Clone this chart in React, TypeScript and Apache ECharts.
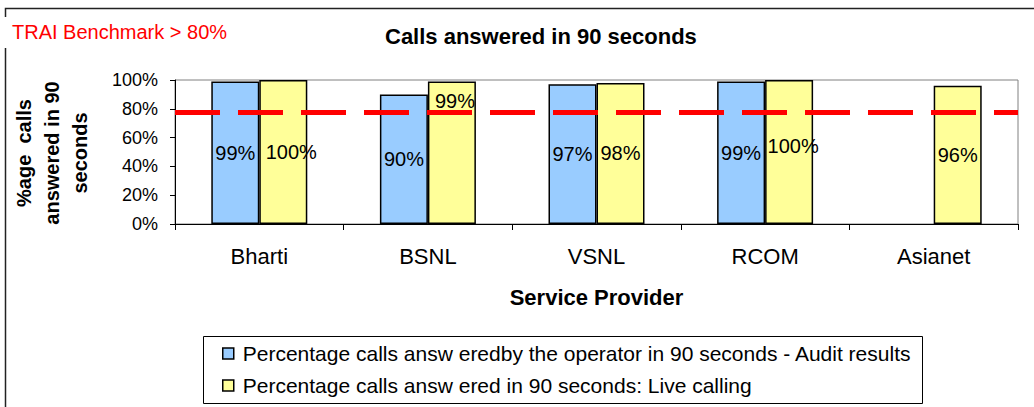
import React, { useEffect, useRef } from "react";
import * as echarts from "echarts";

const providers = ["Bharti", "BSNL", "VSNL", "RCOM", "Asianet"];
const auditResults: (number | null)[] = [99, 90, 97, 99, null];
const liveCalling: number[] = [100, 99, 98, 100, 96];
const benchmarkLine = 77.5; // where the dashed benchmark line is drawn
const yTicks = [0, 20, 40, 60, 80, 100];

const seriesNames = [
  "Percentage calls answ eredby the operator in 90 seconds - Audit results",
  "Percentage calls answ ered in 90 seconds: Live calling",
];
const colors = ["#99CCFF", "#FFFF99"];

const FONT = "'Liberation Sans', Arial, sans-serif";

// label placement tweaks for the live-calling series (style only)
const liveLabelTweaks: Record<number, any> = {
  0: { offset: [8, 0] },
  1: { position: "insideTop", distance: 10, offset: [3, 0] },
  3: { offset: [4, -6] },
};

export default function App() {
  const ref = useRef<HTMLDivElement>(null);

  useEffect(() => {
    if (!ref.current) return;
    const chart = echarts.init(ref.current, null, { renderer: "svg" });

    const labelBase = {
      show: true,
      position: "inside",
      formatter: "{c}%",
      color: "#000",
      fontSize: 20,
      fontFamily: FONT,
    };

    const option: any = {
      animation: false,
      backgroundColor: "#fff",
      title: {
        text: "Calls answered in 90 seconds",
        left: 385,
        top: 25,
        padding: 0,
        textStyle: { fontSize: 22, fontWeight: "bold", color: "#000", fontFamily: FONT },
      },
      legend: {
        orient: "vertical",
        left: 222,
        top: 343,
        padding: 0,
        itemWidth: 11,
        itemHeight: 11,
        itemGap: 11,
        icon: "rect",
        textStyle: { fontSize: 21, lineHeight: 21, color: "#000", fontFamily: FONT, padding: [0, 0, 0, 4] },
        data: seriesNames.map((n, i) => ({
          name: n,
          itemStyle: { color: colors[i], borderColor: "#000", borderWidth: 1.5 },
        })),
      },
      grid: {
        left: 175,
        top: 80,
        right: 16,
        bottom: 183,
        show: true,
        borderColor: "#808080",
        borderWidth: 1,
        backgroundColor: "transparent",
      },
      xAxis: {
        type: "category",
        data: providers,
        name: "Service Provider",
        nameLocation: "middle",
        nameGap: 62,
        nameTextStyle: { fontSize: 22, fontWeight: "bold", color: "#000", fontFamily: FONT },
        axisLine: { show: true, lineStyle: { color: "#000", width: 1 } },
        axisTick: { show: true, length: 6, lineStyle: { color: "#000" } },
        axisLabel: { fontSize: 22, color: "#000", margin: 21, fontFamily: FONT },
      },
      yAxis: {
        type: "value",
        min: yTicks[0],
        max: yTicks[yTicks.length - 1],
        interval: 20,
        axisLine: { show: true, lineStyle: { color: "#000", width: 1 } },
        axisTick: { show: true, length: 5, lineStyle: { color: "#000" } },
        splitLine: { show: false },
        axisLabel: { fontSize: 18, color: "#000", margin: 17, fontFamily: FONT, formatter: "{value}%" },
      },
      series: [
        {
          name: seriesNames[0],
          type: "bar",
          data: auditResults,
          barWidth: 48,
          barGap: "0%",
          itemStyle: { color: colors[0], borderColor: "#000", borderWidth: 1.5 },
          label: labelBase,
        },
        {
          name: seriesNames[1],
          type: "bar",
          data: liveCalling.map((v, i) =>
            liveLabelTweaks[i] ? { value: v, label: liveLabelTweaks[i] } : v
          ),
          barWidth: 48,
          barGap: "0%",
          itemStyle: { color: colors[1], borderColor: "#000", borderWidth: 1.5 },
          label: labelBase,
          markLine: {
            silent: true,
            symbol: ["none", "none"],
            label: { show: false },
            lineStyle: { color: "#FF0000", width: 5, type: [45, 18], opacity: 1 },
            emphasis: { disabled: true },
            data: [{ yAxis: benchmarkLine }],
            z: 10,
          },
        },
      ],
      graphic: [
        {
          type: "rect",
          silent: true,
          shape: { x: 5.5, y: 8.5, width: 1100, height: 500 },
          style: { fill: "none", stroke: "#222", lineWidth: 1.5 },
        },
        {
          type: "rect",
          silent: true,
          shape: { x: 0, y: 17, width: 240, height: 31 },
          style: { fill: "#fff", stroke: "none" },
        },
        {
          type: "text",
          silent: true,
          x: 12,
          y: 32,
          style: {
            text: "TRAI Benchmark > 80%",
            fill: "#FF0000",
            font: `20px ${FONT}`,
            textAlign: "left",
            textVerticalAlign: "middle",
          },
        },
        {
          type: "text",
          silent: true,
          x: 52,
          y: 153,
          rotation: Math.PI / 2,
          style: {
            text: "%age  calls\nanswered in 90\nseconds",
            fill: "#000",
            font: `bold 20px ${FONT}`,
            lineHeight: 28,
            textAlign: "center",
            textVerticalAlign: "middle",
          },
        },
        {
          type: "rect",
          silent: true,
          shape: { x: 203.5, y: 336.5, width: 719, height: 67 },
          style: { fill: "none", stroke: "#000", lineWidth: 1 },
        },
      ],
    };

    chart.setOption(option);
    return () => chart.dispose();
  }, []);

  return (
    <div
      ref={ref}
      style={{ position: "fixed", left: 0, top: 0, width: 1034, height: 407 }}
    />
  );
}
